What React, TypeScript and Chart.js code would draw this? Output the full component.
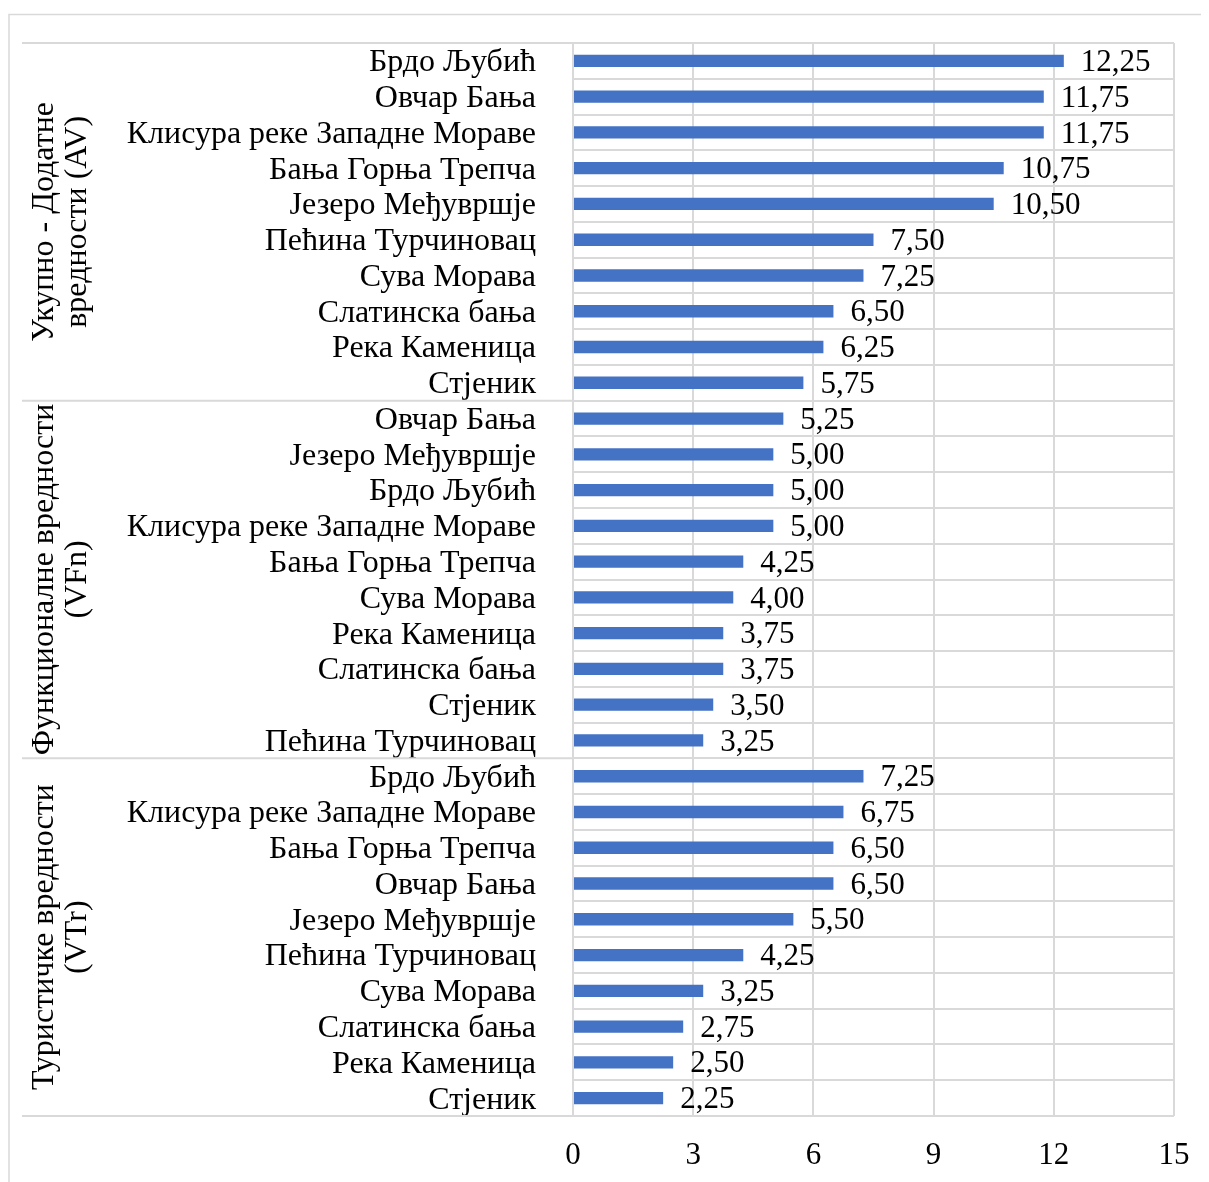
import React, { useEffect, useRef } from "react";
import { Chart, registerables } from "chart.js";

Chart.register(...registerables);

const categories = [
  "Брдо Љубић", "Овчар Бања", "Клисура реке Западне Мораве", "Бања Горња Трепча", "Језеро Међувршје",
  "Пећина Турчиновац", "Сува Морава", "Слатинска бања", "Река Каменица", "Стјеник",
  "Овчар Бања", "Језеро Међувршје", "Брдо Љубић", "Клисура реке Западне Мораве", "Бања Горња Трепча",
  "Сува Морава", "Река Каменица", "Слатинска бања", "Стјеник", "Пећина Турчиновац",
  "Брдо Љубић", "Клисура реке Западне Мораве", "Бања Горња Трепча", "Овчар Бања", "Језеро Међувршје",
  "Пећина Турчиновац", "Сува Морава", "Слатинска бања", "Река Каменица", "Стјеник",
];

const values = [
  12.25, 11.75, 11.75, 10.75, 10.5, 7.5, 7.25, 6.5, 6.25, 5.75,
  5.25, 5.0, 5.0, 5.0, 4.25, 4.0, 3.75, 3.75, 3.5, 3.25,
  7.25, 6.75, 6.5, 6.5, 5.5, 4.25, 3.25, 2.75, 2.5, 2.25,
];

const groupLabels = [
  ["Укупно - Додатне", "вредности (AV)"],
  ["Функционалне вредности", "(VFn)"],
  ["Туристичке вредности", "(VTr)"],
];
const groupSize = 10;

const xTicks = [0, 3, 6, 9, 12, 15];

const FONT = "'Liberation Serif', 'Times New Roman', serif";
const FS = 31;
const FS_LABEL = 32;
const GRID = "#d9d9d9";

const overlayPlugin = {
  id: "overlay",
  beforeDraw(chart: any) {
    const ctx = chart.ctx;
    ctx.save();
    ctx.strokeStyle = GRID;
    ctx.lineWidth = 1.5;
    ctx.beginPath();
    ctx.moveTo(1, chart.height);
    ctx.lineTo(1, 6.5);
    ctx.lineTo(chart.width, 6.5);
    ctx.stroke();
    ctx.restore();
  },
  afterDraw(chart: any) {
    const ctx = chart.ctx;
    const area = chart.chartArea;
    const n = categories.length;
    const rowH = (area.bottom - area.top) / n;
    ctx.save();
    ctx.strokeStyle = GRID;
    ctx.lineWidth = 2;
    for (let g = 0; g <= groupLabels.length; g++) {
      const y = area.top + g * groupSize * rowH;
      ctx.beginPath();
      ctx.moveTo(14, y);
      ctx.lineTo(area.left, y);
      ctx.stroke();
    }
    ctx.fillStyle = "#000";
    ctx.font = `${FS_LABEL}px ${FONT}`;
    ctx.textAlign = "center";
    ctx.textBaseline = "middle";
    groupLabels.forEach((lines, g) => {
      const cy = area.top + (g + 0.5) * groupSize * rowH;
      ctx.save();
      ctx.translate(0, cy);
      ctx.rotate(-Math.PI / 2);
      const xs = lines.length === 2 ? [37, 70] : [52];
      lines.forEach((t, i) => {
        ctx.fillText(t, 0, xs[i]);
      });
      ctx.restore();
    });
    // value labels
    ctx.font = `${FS}px ${FONT}`;
    const meta = chart.getDatasetMeta(0);
    ctx.textAlign = "left";
    ctx.textBaseline = "middle";
    meta.data.forEach((bar: any, i: number) => {
      const v = values[i];
      ctx.fillText(v.toFixed(2).replace(".", ","), bar.x + 17, bar.y + 2);
    });
    ctx.restore();
  },
};

export default function App() {
  const ref = useRef<HTMLCanvasElement>(null);
  useEffect(() => {
    if (!ref.current) return;
    const chart = new Chart(ref.current, {
      type: "bar",
      data: {
        labels: categories,
        datasets: [
          {
            data: values,
            backgroundColor: "#4472C4",
            borderWidth: 0,
            barPercentage: 0.345,
            categoryPercentage: 1,
          },
        ],
      },
      options: {
        indexAxis: "y",
        animation: false,
        responsive: false,
        layout: { padding: { top: 35, right: 35, left: 0, bottom: 0 } },
        plugins: {
          legend: { display: false },
          tooltip: { enabled: false },
          title: { display: false },
        },
        scales: {
          x: {
            min: 0,
            max: 15,
            afterBuildTicks: (scale: any) => {
              scale.ticks = xTicks.map((v) => ({ value: v }));
            },
            afterFit: (scale: any) => {
              scale.height = 66;
              scale.paddingLeft = 0;
              scale.paddingRight = 0;
            },
            grid: { color: GRID, lineWidth: 2, drawTicks: false },
            border: { display: false },
            ticks: {
              color: "#000",
              padding: 21,
              font: { family: FONT, size: FS },
              maxRotation: 0,
            },
          },
          y: {
            afterFit: (scale: any) => {
              scale.width = 565;
              scale.paddingTop = 0;
              scale.paddingBottom = 0;
            },
            grid: { color: GRID, lineWidth: 2, drawTicks: false, offset: true },
            border: { color: GRID, width: 2 },
            ticks: {
              color: "#000",
              padding: 37,
              autoSkip: false,
              labelOffset: 2,
              font: { family: FONT, size: FS_LABEL },
            },
          },
        },
      },
      plugins: [overlayPlugin],
    });
    return () => chart.destroy();
  }, []);
  return (
    <canvas ref={ref} width={1201} height={1174} style={{ display: "block" }} />
  );
}
